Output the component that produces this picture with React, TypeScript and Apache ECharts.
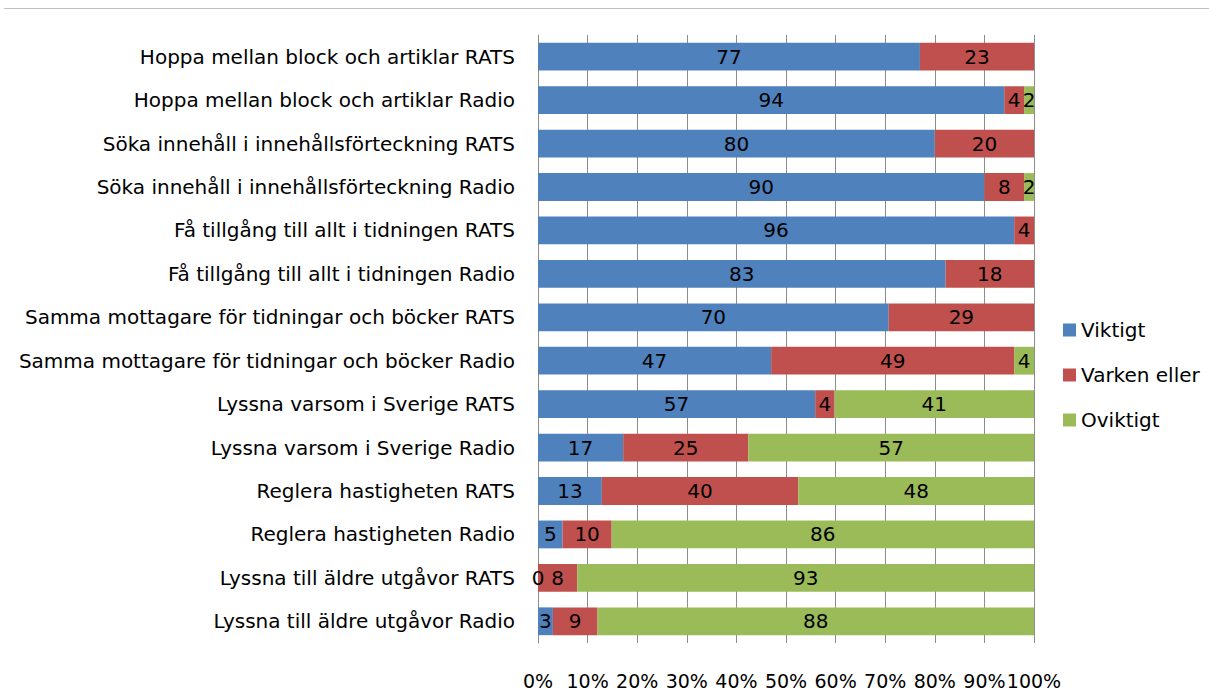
import React, { useEffect, useRef } from "react";
import * as echarts from "echarts";

const categories = [
  "Hoppa mellan block och artiklar RATS",
  "Hoppa mellan block och artiklar Radio",
  "Söka innehåll i innehållsförteckning RATS",
  "Söka innehåll i innehållsförteckning Radio",
  "Få tillgång till allt i tidningen RATS",
  "Få tillgång till allt i tidningen Radio",
  "Samma mottagare för tidningar och böcker RATS",
  "Samma mottagare för tidningar och böcker Radio",
  "Lyssna varsom i Sverige RATS",
  "Lyssna varsom i Sverige Radio",
  "Reglera hastigheten RATS",
  "Reglera hastigheten Radio",
  "Lyssna till äldre utgåvor RATS",
  "Lyssna till äldre utgåvor Radio",
];

const viktigt: (number | null)[] = [77, 94, 80, 90, 96, 83, 70, 47, 57, 17, 13, 5, 0, 3];
const varken: (number | null)[] = [23, 4, 20, 8, 4, 18, 29, 49, 4, 25, 40, 10, 8, 9];
const oviktigt: (number | null)[] = [null, 2, null, 2, null, null, null, 4, 41, 57, 48, 86, 93, 88];

const xTicks = [0, 10, 20, 30, 40, 50, 60, 70, 80, 90, 100];

const seriesNames = ["Viktigt", "Varken eller", "Oviktigt"];
const colors = ["#4F81BD", "#C0504D", "#9BBB59"];

const FONT = "DejaVu Sans";
const FS = 20;

export default function App() {
  const ref = useRef<HTMLDivElement>(null);
  useEffect(() => {
    if (!ref.current) return;
    const chart = echarts.init(ref.current, null, { renderer: "svg" });
    const raw = [viktigt, varken, oviktigt];
    const totals = categories.map((_, i) =>
      raw.reduce((s, arr) => s + (arr[i] ?? 0), 0)
    );
    const series = raw.map((arr, si) => ({
      name: seriesNames[si],
      type: "bar",
      stack: "total",
      barCategoryGap: "36%",
      itemStyle: { color: colors[si] },
      label: {
        show: true,
        position: "inside",
        color: "#000",
        fontFamily: FONT,
        fontSize: FS,
        formatter: (p: any) => (arr[p.dataIndex] == null ? "" : String(arr[p.dataIndex])),
      },
      data: arr.map((v, i) => (v == null ? null : (v / totals[i]) * 100)),
    }));
    chart.setOption({
      animation: false,
      textStyle: { fontFamily: FONT },
      graphic: [
        {
          type: "line",
          shape: { x1: 4, y1: 8.5, x2: 1209, y2: 8.5 },
          style: { stroke: "#bfbfbf", lineWidth: 1 },
        },
      ],
      legend: {
        orient: "vertical",
        left: 1058,
        top: 315,
        itemWidth: 13,
        itemHeight: 13,
        itemGap: 25,
        icon: "rect",
        textStyle: { fontFamily: FONT, fontSize: FS, color: "#000" },
        data: seriesNames,
      },
      grid: { left: 538, right: 175, top: 35, bottom: 48, containLabel: false },
      xAxis: {
        type: "value",
        min: 0,
        max: 100,
        interval: 10,
        axisLine: { show: false },
        axisTick: { show: false },
        splitLine: { show: true, lineStyle: { color: "#8c8c8c", width: 1 } },
        axisLabel: {
          formatter: (v: number) => (xTicks.includes(v) ? v + "%" : ""),
          fontFamily: FONT,
          fontSize: 19,
          color: "#000",
          margin: 28,
          showMaxLabel: true,
          showMinLabel: true,
          hideOverlap: false,
        },
      },
      yAxis: {
        type: "category",
        inverse: true,
        data: categories,
        axisLine: { show: true, lineStyle: { color: "#8c8c8c" } },
        axisTick: { show: false },
        axisLabel: { fontFamily: FONT, fontSize: FS, color: "#000", margin: 23 },
      },
      series,
    });
    return () => chart.dispose();
  }, []);
  return (
    <div
      ref={ref}
      style={{ position: "fixed", left: 0, top: 0, width: 1209, height: 691, background: "#fff" }}
    />
  );
}
